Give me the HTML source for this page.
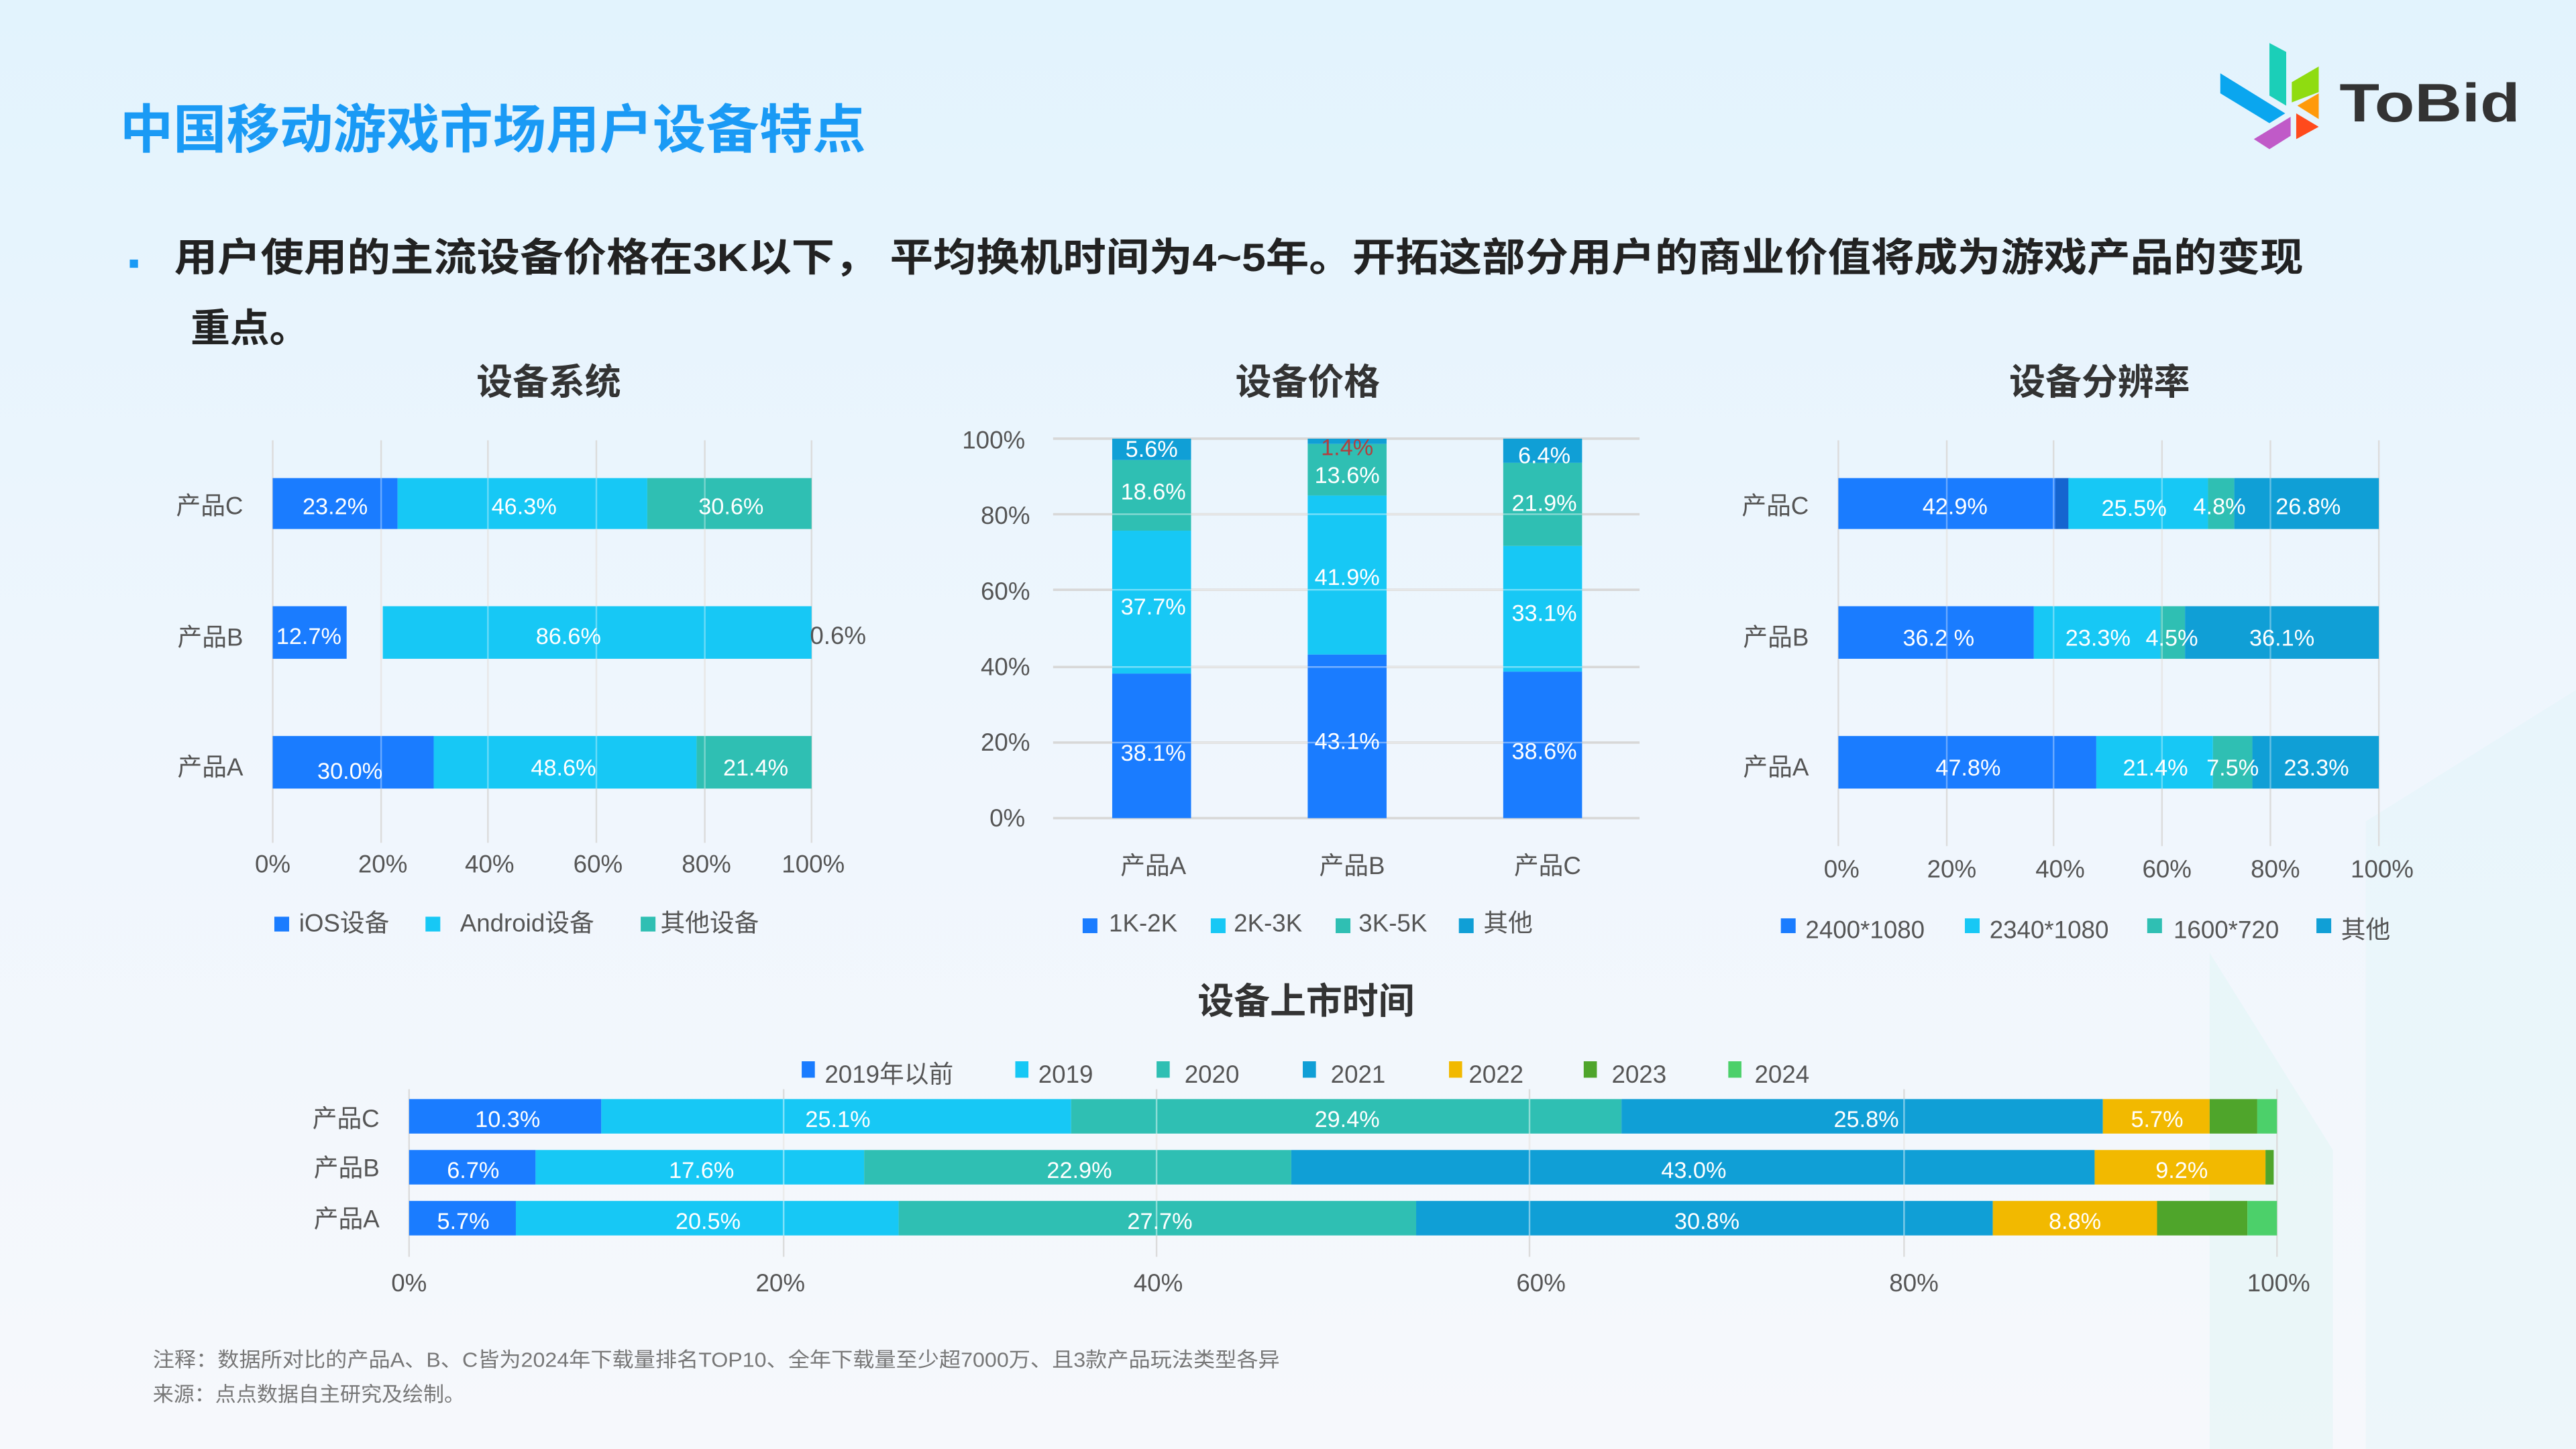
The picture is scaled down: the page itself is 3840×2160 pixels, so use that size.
<!DOCTYPE html>
<html><head><meta charset="utf-8"><style>
html,body{margin:0;padding:0;width:3840px;height:2160px;overflow:hidden;background:#eef6fd}
svg{display:block}
text{font-family:"Liberation Sans","Noto Sans CJK SC",sans-serif}
.lb{font-size:15px;fill:#555}
.tk{font-size:15px;fill:#555}
.w{font-size:14px;fill:#fff;text-anchor:middle}
.ct{font-size:22px;font-weight:bold;fill:#333;text-anchor:middle}
</style></head><body>
<svg width="3840" height="2160" viewBox="0 0 1568 882" xmlns="http://www.w3.org/2000/svg">
<defs>
<linearGradient id="bg" x1="0" y1="0" x2="0" y2="1"><stop offset="0" stop-color="#e2f3fd"/><stop offset="0.5" stop-color="#eff6fd"/><stop offset="1" stop-color="#f6f8fc"/></linearGradient>
</defs>
<rect width="1568" height="882" fill="url(#bg)"/>
<!-- faint decoration -->
<polygon points="1345,580 1420,700 1420,882 1345,882" fill="#d8f4f2" opacity="0.35"/>
<polygon points="1440,500 1568,420 1568,882 1440,882" fill="#dcf3f6" opacity="0.35"/>

<!-- logo -->
<polygon points="1351.5,44.6 1391,69 1381.4,75 1351.5,56.8" fill="#0aa6ef"/>
<polygon points="1381.4,26.2 1391.6,31.6 1391.6,64.3 1381.4,58.2" fill="#1bcfb8"/>
<polygon points="1395,50 1411.4,40.5 1411.4,56.1 1395,62.3" fill="#8fdc10"/>
<polygon points="1398.4,64.3 1411.4,56.8 1411.4,72.5" fill="#ff9a0a"/>
<polygon points="1397.7,69 1411.4,77.2 1397.7,84.7" fill="#ff4a1c"/>
<polygon points="1394.3,71.1 1394.3,82.7 1381.4,90.8 1371.9,84.7" fill="#c05ac8"/>
<text x="1424" y="74" font-size="33" font-weight="bold" fill="#333" textLength="110" lengthAdjust="spacingAndGlyphs">ToBid</text>

<text x="73" y="90" font-size="32" font-weight="bold" fill="#1a9af5" textLength="454" lengthAdjust="spacingAndGlyphs">中国移动游戏市场用户设备特点</text>
<rect x="79" y="158" width="5" height="5" fill="#1a9af5"/>
<text x="106" y="165" font-size="24" font-weight="bold" fill="#222" textLength="1296" lengthAdjust="spacingAndGlyphs">用户使用的主流设备价格在3K以下， 平均换机时间为4~5年。开拓这部分用户的商业价值将成为游戏产品的变现</text>
<text x="116" y="208" font-size="24" font-weight="bold" fill="#222">重点。</text>

<!-- Chart 1 -->
<text x="334" y="240" class="ct">设备系统</text>
<g stroke="#dcdcdc" stroke-width="1">
<line x1="166" y1="268" x2="166" y2="513"/><line x1="232" y1="268" x2="232" y2="513"/><line x1="297" y1="268" x2="297" y2="513"/><line x1="363" y1="268" x2="363" y2="513"/><line x1="429" y1="268" x2="429" y2="513"/><line x1="494" y1="268" x2="494" y2="513"/>
</g>
<rect x="166" y="291" width="76" height="31" fill="#1a7cff"/><rect x="242" y="291" width="152" height="31" fill="#17c8f5"/><rect x="394" y="291" width="100" height="31" fill="#2fbfb3"/>
<rect x="166" y="369" width="45" height="32" fill="#1a7cff"/><rect x="233" y="369" width="261" height="32" fill="#17c8f5"/>
<rect x="166" y="448" width="98" height="32" fill="#1a7cff"/><rect x="264" y="448" width="160" height="32" fill="#17c8f5"/><rect x="424" y="448" width="70" height="32" fill="#2fbfb3"/>
<g stroke="#fff" stroke-opacity="0.35"><line x1="232" y1="291" x2="232" y2="480"/><line x1="297" y1="291" x2="297" y2="480"/><line x1="363" y1="291" x2="363" y2="480"/><line x1="429" y1="291" x2="429" y2="480"/></g>
<text x="204" y="313" class="w" font-size="15">23.2%</text><text x="319" y="313" class="w" font-size="15">46.3%</text><text x="445" y="313" class="w" font-size="15">30.6%</text>
<text x="188" y="392" class="w" font-size="15">12.7%</text><text x="346" y="392" class="w" font-size="13">86.6%</text><text x="493" y="392" font-size="15" fill="#555">0.6%</text>
<text x="213" y="474" class="w">30.0%</text><text x="343" y="472" class="w" font-size="15">48.6%</text><text x="460" y="472" class="w" font-size="15">21.4%</text>
<text x="148" y="313" class="lb" text-anchor="end">产品C</text><text x="148" y="393" class="lb" text-anchor="end">产品B</text><text x="148" y="472" class="lb" text-anchor="end">产品A</text>
<g class="tk" text-anchor="middle"><text x="166" y="531">0%</text><text x="233" y="531">20%</text><text x="298" y="531">40%</text><text x="364" y="531">60%</text><text x="430" y="531">80%</text><text x="495" y="531">100%</text></g>
<rect x="167" y="558" width="9" height="9" fill="#1a7cff"/><text x="182" y="567" class="lb">iOS设备</text>
<rect x="259" y="558" width="9" height="9" fill="#17c8f5"/><text x="280" y="567" class="lb">Android设备</text>
<rect x="390" y="558" width="9" height="9" fill="#2fbfb3"/><text x="402" y="567" class="lb">其他设备</text>

<!-- Chart 2 -->
<text x="796" y="240" class="ct">设备价格</text>
<g stroke="#d8d8d8" stroke-width="1.5">
<line x1="641" y1="267" x2="998" y2="267"/><line x1="641" y1="313" x2="998" y2="313"/><line x1="641" y1="359" x2="998" y2="359"/><line x1="641" y1="406" x2="998" y2="406"/><line x1="641" y1="452" x2="998" y2="452"/><line x1="641" y1="498" x2="998" y2="498"/>
</g>
<g text-anchor="end" class="tk"><text x="624" y="273">100%</text><text x="627" y="319">80%</text><text x="627" y="365">60%</text><text x="627" y="411">40%</text><text x="627" y="457">20%</text><text x="624" y="503">0%</text></g>
<rect x="677" y="410" width="48" height="88" fill="#1a7cff"/><rect x="677" y="323" width="48" height="87" fill="#17c8f5"/><rect x="677" y="280" width="48" height="43" fill="#2fbfb3"/><rect x="677" y="267" width="48" height="13" fill="#109fd6"/>
<rect x="796" y="398.4" width="48" height="99.6" fill="#1a7cff"/><rect x="796" y="301.6" width="48" height="96.8" fill="#17c8f5"/><rect x="796" y="270.2" width="48" height="31.4" fill="#2fbfb3"/><rect x="796" y="267" width="48" height="3.2" fill="#109fd6"/>
<rect x="915" y="408.8" width="48" height="89.2" fill="#1a7cff"/><rect x="915" y="332.3" width="48" height="76.5" fill="#17c8f5"/><rect x="915" y="281.7" width="48" height="50.6" fill="#2fbfb3"/><rect x="915" y="267" width="48" height="14.7" fill="#109fd6"/>
<g stroke="#fff" stroke-opacity="0.4"><line x1="677" y1="313" x2="963" y2="313"/><line x1="677" y1="359" x2="963" y2="359"/><line x1="677" y1="406" x2="963" y2="406"/><line x1="677" y1="452" x2="963" y2="452"/></g>
<text x="701" y="278" class="w">5.6%</text><text x="702" y="304" class="w">18.6%</text><text x="702" y="374" class="w">37.7%</text><text x="702" y="463" class="w">38.1%</text>
<text x="820" y="277" font-size="14" fill="#b04040" text-anchor="middle">1.4%</text><text x="820" y="294" class="w">13.6%</text><text x="820" y="356" class="w">41.9%</text><text x="820" y="456" class="w">43.1%</text>
<text x="940" y="282" class="w">6.4%</text><text x="940" y="311" class="w">21.9%</text><text x="940" y="378" class="w">33.1%</text><text x="940" y="462" class="w">38.6%</text>
<g class="tk" text-anchor="middle"><text x="702" y="532">产品A</text><text x="823" y="532">产品B</text><text x="942" y="532">产品C</text></g>
<rect x="659" y="559" width="9" height="9" fill="#1a7cff"/><text x="675" y="567" class="lb">1K-2K</text>
<rect x="737" y="559" width="9" height="9" fill="#17c8f5"/><text x="751" y="567" class="lb">2K-3K</text>
<rect x="813" y="559" width="9" height="9" fill="#2fbfb3"/><text x="827" y="567" class="lb">3K-5K</text>
<rect x="888" y="559" width="9" height="9" fill="#109fd6"/><text x="903" y="567" class="lb">其他</text>

<!-- Chart 3 -->
<text x="1278" y="240" class="ct">设备分辨率</text>
<g stroke="#dcdcdc" stroke-width="1">
<line x1="1119" y1="268" x2="1119" y2="515"/><line x1="1185" y1="268" x2="1185" y2="515"/><line x1="1250" y1="268" x2="1250" y2="515"/><line x1="1316" y1="268" x2="1316" y2="515"/><line x1="1382" y1="268" x2="1382" y2="515"/><line x1="1448" y1="268" x2="1448" y2="515"/>
</g>
<rect x="1119" y="291" width="132" height="31" fill="#1a7cff"/><rect x="1251" y="291" width="9" height="31" fill="#1565d0"/><rect x="1259" y="291" width="85" height="31" fill="#17c8f5"/><rect x="1344" y="291" width="16" height="31" fill="#2fbfb3"/><rect x="1360" y="291" width="88" height="31" fill="#109fd6"/>
<rect x="1119" y="369" width="119" height="32" fill="#1a7cff"/><rect x="1238" y="369" width="77" height="32" fill="#17c8f5"/><rect x="1315" y="369" width="15" height="32" fill="#2fbfb3"/><rect x="1330" y="369" width="118" height="32" fill="#109fd6"/>
<rect x="1119" y="448" width="157" height="32" fill="#1a7cff"/><rect x="1276" y="448" width="71" height="32" fill="#17c8f5"/><rect x="1347" y="448" width="24" height="32" fill="#2fbfb3"/><rect x="1371" y="448" width="77" height="32" fill="#109fd6"/>
<g stroke="#fff" stroke-opacity="0.35"><line x1="1185" y1="291" x2="1185" y2="480"/><line x1="1250" y1="291" x2="1250" y2="480"/><line x1="1316" y1="291" x2="1316" y2="480"/><line x1="1382" y1="291" x2="1382" y2="480"/></g>
<text x="1190" y="313" class="w" font-size="15">42.9%</text><text x="1299" y="314" class="w" font-size="12">25.5%</text><text x="1351" y="313" class="w" font-size="15">4.8%</text><text x="1405" y="313" class="w" font-size="15">26.8%</text>
<text x="1180" y="393" class="w" font-size="15">36.2 %</text><text x="1277" y="393" class="w" font-size="15">23.3%</text><text x="1322" y="393" class="w" font-size="15">4.5%</text><text x="1389" y="393" class="w" font-size="15">36.1%</text>
<text x="1198" y="472" class="w" font-size="15">47.8%</text><text x="1312" y="472" class="w" font-size="15">21.4%</text><text x="1359" y="472" class="w" font-size="15">7.5%</text><text x="1410" y="472" class="w" font-size="15">23.3%</text>
<text x="1101" y="313" class="lb" text-anchor="end">产品C</text><text x="1101" y="393" class="lb" text-anchor="end">产品B</text><text x="1101" y="472" class="lb" text-anchor="end">产品A</text>
<g class="tk" text-anchor="middle"><text x="1121" y="534">0%</text><text x="1188" y="534">20%</text><text x="1254" y="534">40%</text><text x="1319" y="534">60%</text><text x="1385" y="534">80%</text><text x="1450" y="534">100%</text></g>
<rect x="1084" y="559" width="9" height="9" fill="#1a7cff"/><text x="1099" y="571" class="lb">2400*1080</text>
<rect x="1196" y="559" width="9" height="9" fill="#17c8f5"/><text x="1211" y="571" class="lb">2340*1080</text>
<rect x="1307" y="559" width="9" height="9" fill="#2fbfb3"/><text x="1323" y="571" class="lb">1600*720</text>
<rect x="1410" y="559" width="9" height="9" fill="#109fd6"/><text x="1425" y="571" class="lb">其他</text>

<!-- Bottom chart -->
<text x="795" y="617" class="ct">设备上市时间</text>
<rect x="488" y="646" width="8" height="10" fill="#1a7cff"/><text x="502" y="659" class="lb">2019年以前</text>
<rect x="618" y="646" width="8" height="10" fill="#17c8f5"/><text x="632" y="659" class="lb">2019</text>
<rect x="704" y="646" width="8" height="10" fill="#2fbfb3"/><text x="721" y="659" class="lb">2020</text>
<rect x="793" y="646" width="8" height="10" fill="#109fd6"/><text x="810" y="659" class="lb">2021</text>
<rect x="882" y="646" width="8" height="10" fill="#f2b900"/><text x="894" y="659" class="lb">2022</text>
<rect x="964" y="646" width="8" height="10" fill="#4fa52b"/><text x="981" y="659" class="lb">2023</text>
<rect x="1052" y="646" width="8" height="10" fill="#4cd06a"/><text x="1068" y="659" class="lb">2024</text>
<g stroke="#dcdcdc" stroke-width="1">
<line x1="249" y1="663" x2="249" y2="765"/><line x1="477" y1="663" x2="477" y2="765"/><line x1="704" y1="663" x2="704" y2="765"/><line x1="931" y1="663" x2="931" y2="765"/><line x1="1159" y1="663" x2="1159" y2="765"/><line x1="1386" y1="663" x2="1386" y2="765"/>
</g>
<rect x="249" y="669" width="117" height="21" fill="#1a7cff"/><rect x="366" y="669" width="286" height="21" fill="#17c8f5"/><rect x="652" y="669" width="335" height="21" fill="#2fbfb3"/><rect x="987" y="669" width="293" height="21" fill="#109fd6"/><rect x="1280" y="669" width="65" height="21" fill="#f2b900"/><rect x="1345" y="669" width="29" height="21" fill="#4fa52b"/><rect x="1374" y="669" width="12" height="21" fill="#4cd06a"/>
<rect x="249" y="700" width="77" height="21" fill="#1a7cff"/><rect x="326" y="700" width="200" height="21" fill="#17c8f5"/><rect x="526" y="700" width="260" height="21" fill="#2fbfb3"/><rect x="786" y="700" width="489" height="21" fill="#109fd6"/><rect x="1275" y="700" width="104" height="21" fill="#f2b900"/><rect x="1379" y="700" width="5" height="21" fill="#4fa52b"/>
<rect x="249" y="731" width="65" height="21" fill="#1a7cff"/><rect x="314" y="731" width="233" height="21" fill="#17c8f5"/><rect x="547" y="731" width="315" height="21" fill="#2fbfb3"/><rect x="862" y="731" width="351" height="21" fill="#109fd6"/><rect x="1213" y="731" width="100" height="21" fill="#f2b900"/><rect x="1313" y="731" width="55" height="21" fill="#4fa52b"/><rect x="1368" y="731" width="18" height="21" fill="#4cd06a"/>
<g stroke="#fff" stroke-opacity="0.45"><line x1="477" y1="669" x2="477" y2="752"/><line x1="704" y1="669" x2="704" y2="752"/><line x1="931" y1="669" x2="931" y2="752"/><line x1="1159" y1="669" x2="1159" y2="752"/></g>
<text x="309" y="686" class="w">10.3%</text><text x="510" y="686" class="w">25.1%</text><text x="820" y="686" class="w">29.4%</text><text x="1136" y="686" class="w">25.8%</text><text x="1313" y="686" class="w">5.7%</text>
<text x="288" y="717" class="w">6.7%</text><text x="427" y="717" class="w">17.6%</text><text x="657" y="717" class="w">22.9%</text><text x="1031" y="717" class="w">43.0%</text><text x="1328" y="717" class="w">9.2%</text>
<text x="282" y="748" class="w">5.7%</text><text x="431" y="748" class="w">20.5%</text><text x="706" y="748" class="w">27.7%</text><text x="1039" y="748" class="w">30.8%</text><text x="1263" y="748" class="w">8.8%</text>
<text x="231" y="686" class="lb" text-anchor="end">产品C</text><text x="231" y="716" class="lb" text-anchor="end">产品B</text><text x="231" y="747" class="lb" text-anchor="end">产品A</text>
<g class="tk" text-anchor="middle"><text x="249" y="786">0%</text><text x="475" y="786">20%</text><text x="705" y="786">40%</text><text x="938" y="786">60%</text><text x="1165" y="786">80%</text><text x="1387" y="786">100%</text></g>

<text x="93" y="832" font-size="12.5" fill="#777" textLength="686" lengthAdjust="spacingAndGlyphs">注释：数据所对比的产品A、B、C皆为2024年下载量排名TOP10、全年下载量至少超7000万、且3款产品玩法类型各异</text>
<text x="93" y="853" font-size="12.5" fill="#777" textLength="190" lengthAdjust="spacingAndGlyphs">来源：点点数据自主研究及绘制。</text>
</svg>
</body></html>
